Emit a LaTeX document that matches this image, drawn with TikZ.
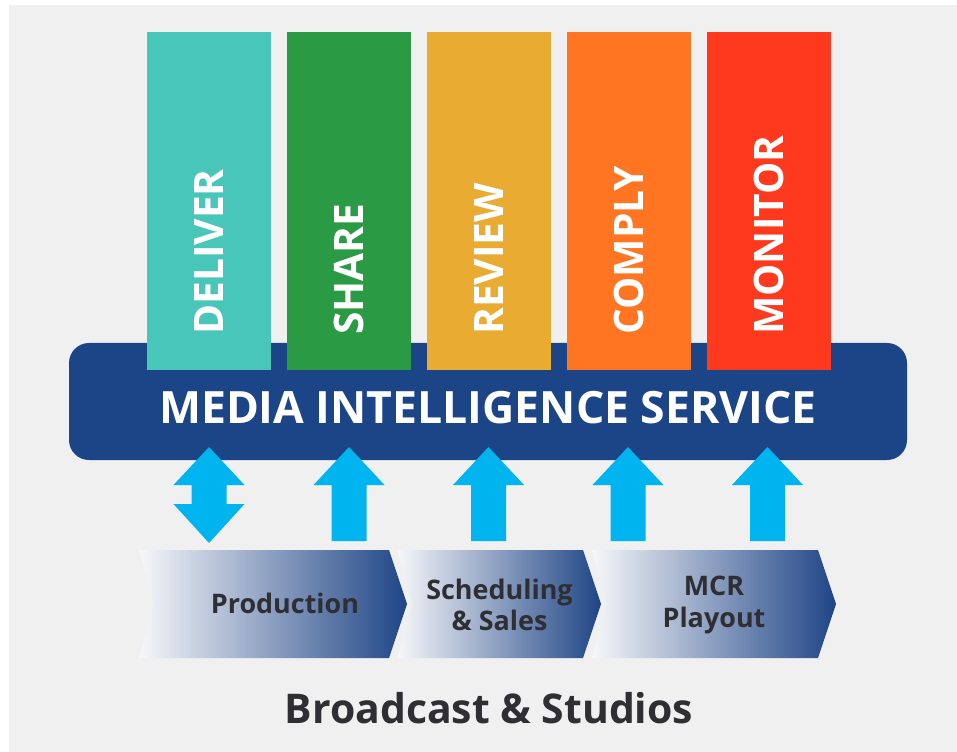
\documentclass[tikz,border=0pt]{standalone}
\usepackage{fontspec}
\setmainfont{Open Sans}
\usepackage{xcolor}
\usetikzlibrary{positioning}
\definecolor{bgGray}{HTML}{F0F0F0}
\definecolor{misBlue}{HTML}{1C4587}
\definecolor{arrBlue}{HTML}{00B5EF}
\definecolor{cDeliver}{HTML}{48C6B9}
\definecolor{cShare}{HTML}{2A9A44}
\definecolor{cReview}{HTML}{E9AB32}
\definecolor{cComply}{HTML}{FF7522}
\definecolor{cMonitor}{HTML}{FF391E}
\definecolor{txtDark}{HTML}{2E2E33}
\definecolor{chevLight}{HTML}{F6F7FA}
\definecolor{chevDark}{HTML}{1F4586}
\tikzset{
  pillar/.style={minimum width=93pt, minimum height=253.5pt, inner sep=0pt},
  pillartext/.style={rotate=90, anchor=west, inner sep=0pt, text=white,
    font=\fontsize{30.5}{34}\selectfont\bfseries, text height=21.8pt, text depth=0pt},
  steplabel/.style={text=txtDark, align=center, font=\fontsize{20.2}{23.5}\selectfont\bfseries}
}

\begin{document}
\begin{tikzpicture}[x=0.75pt,y=-0.75pt]
\useasboundingbox (0,0) rectangle (957,752);
\fill[white] (0,0) rectangle (957,752);
\fill[bgGray] (9,5) rectangle (957,752);

% service bar
\fill[misBlue, rounded corners=15pt] (69,343) rectangle (907,460);

% pillars
\node[pillar, fill=cDeliver] (deliver) at (209,201) {};
\node[pillar, fill=cShare, right=11.6pt of deliver] (share) {};
\node[pillar, fill=cReview, right=11.6pt of share] (review) {};
\node[pillar, fill=cComply, right=11.6pt of review] (comply) {};
\node[pillar, fill=cMonitor, right=11.6pt of comply] (monitor) {};
\foreach \p/\t in {deliver/DELIVER, share/SHARE, review/REVIEW, comply/COMPLY, monitor/MONITOR}
  \node[pillartext] (\p txt) at (\p.center |- 0,335) {\t};

\node[text=white, font=\fontsize{33.4}{36}\selectfont\bfseries] (mis) at (488,408) {MEDIA INTELLIGENCE SERVICE};

% arrows
\fill[arrBlue] (209,447) -- (244.5,485) -- (226.5,485) -- (226.5,504) -- (244.5,504) -- (209,543)
  -- (173.5,504) -- (191.5,504) -- (191.5,485) -- (173.5,485) -- cycle;
\foreach \cx in {349,488.5,628,767.5}
  \fill[arrBlue] (\cx-17.5,541) -- (\cx-17.5,485) -- (\cx-35.5,485) -- (\cx,447)
    -- (\cx+35.5,485) -- (\cx+17.5,485) -- (\cx+17.5,541) -- cycle;

% workflow chevrons
\foreach \xa/\xb in {139/389, 397/583, 592/818}
  \shade[left color=chevLight, right color=chevDark]
    (\xa,550) -- (\xb,550) -- (\xb+18,604) -- (\xb,658) -- (\xa,658) -- (\xa+15,604) -- cycle;
\node[steplabel] (prod) at (285,603) {Production};
\node[steplabel] (sched) at (499.5,605) {Scheduling\\\& Sales};
\node[steplabel] (mcr) at (714,605) {MCR\\Playout};

\node[text=txtDark, font=\fontsize{30.7}{36}\selectfont\bfseries] (bcast) at (489,708) {Broadcast \& Studios};
\end{tikzpicture}
\end{document}
